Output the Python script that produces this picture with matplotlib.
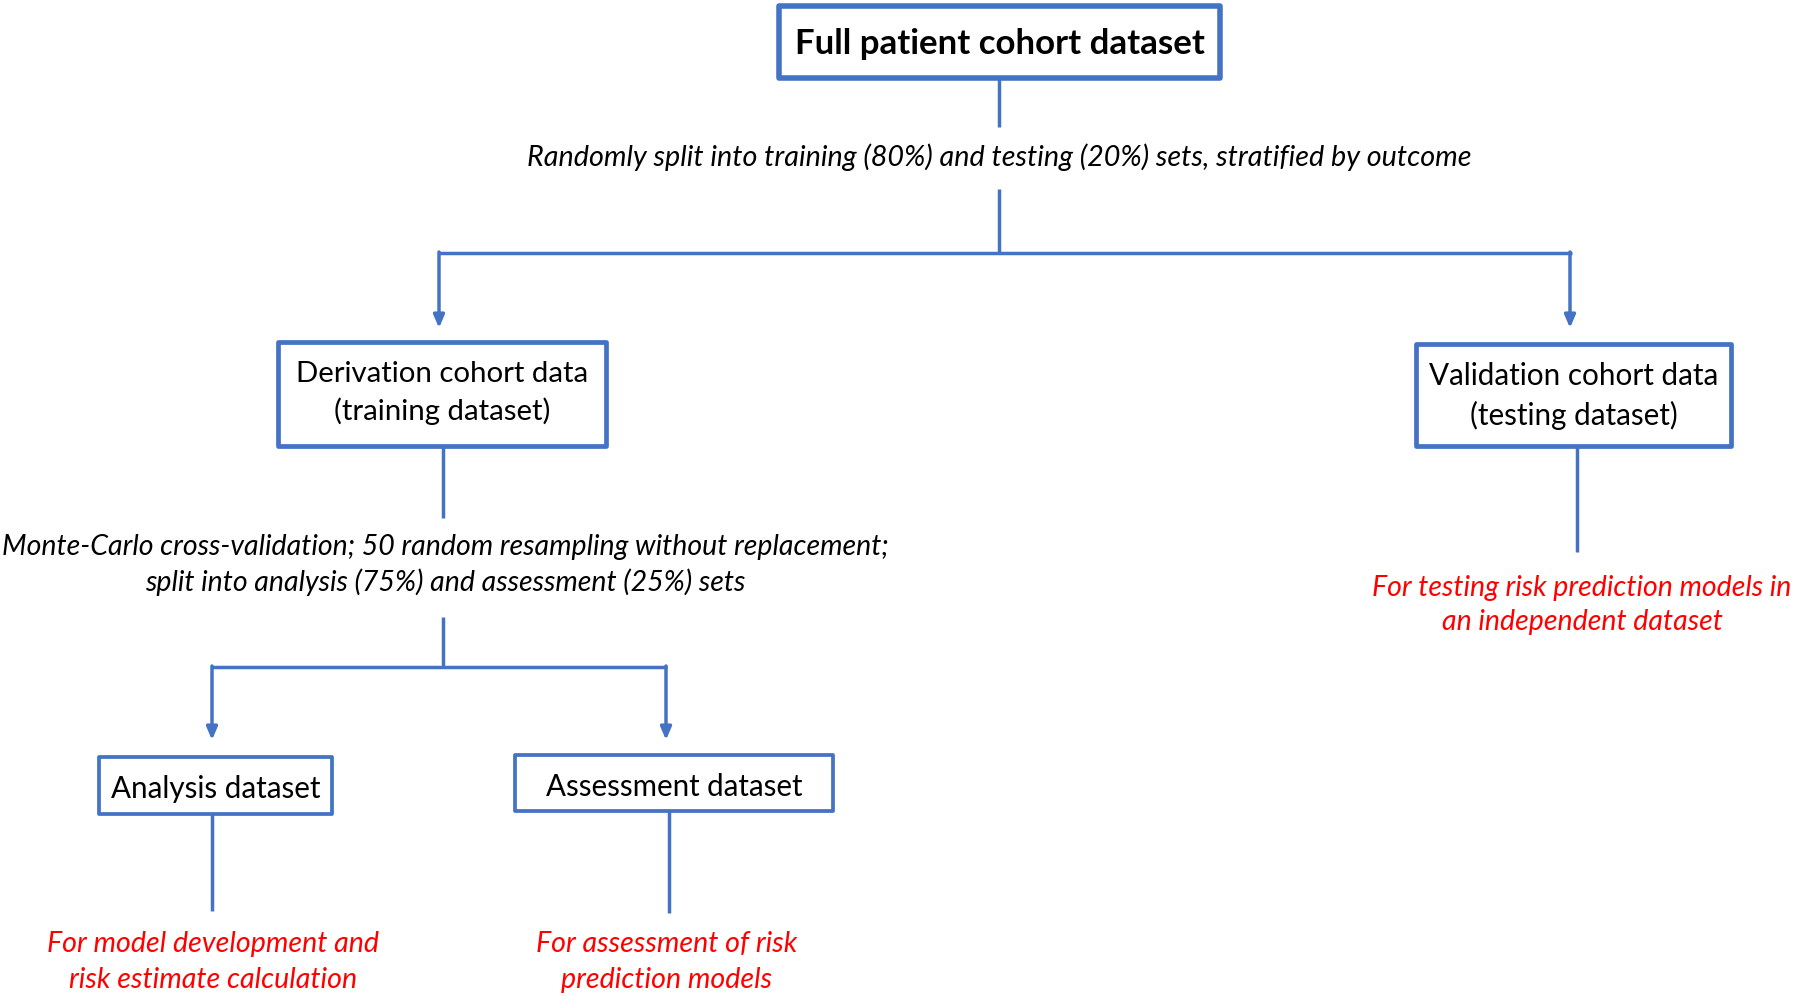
import matplotlib.pyplot as plt
from matplotlib.patches import Rectangle

plt.rcParams['font.family'] = ['Lato', 'DejaVu Sans']

# text content of the flowchart
box_labels = ['Full patient cohort dataset',
              'Derivation cohort data\n(training dataset)',
              'Validation cohort data\n(testing dataset)',
              'Analysis dataset',
              'Assessment dataset']
split_labels = ['Randomly split into training (80%) and testing (20%) sets, stratified by outcome',
                'Monte-Carlo cross-validation; 50 random resampling without replacement;\n'
                'split into analysis (75%) and assessment (25%) sets']
use_labels = ['For testing risk prediction models in\nan independent dataset',
              'For model development and\nrisk estimate calculation',
              'For assessment of risk\nprediction models']

BLUE = '#4472C4'
RED = '#FF0000'

# layout in pixels (x0, y0, x1, y1), y downwards
box_rects = [(779, 6, 1220, 78), (278, 342, 606, 446), (1416, 344, 1731, 446),
             (99, 757, 332, 814), (515, 755, 833, 811)]
box_lw = [4.0, 3.4, 3.4, 2.7, 2.7]
box_text_w = [410, 293, 289, 210, 257]
box_text_y = [44, 393, 396, 789, 787]

fig = plt.figure(figsize=(17.97, 9.96), dpi=100)
ax = fig.add_axes([0, 0, 1, 1])
ax.set_xlim(0, 1797)
ax.set_ylim(996, 0)
ax.axis('off')
renderer = fig.canvas.get_renderer()


def fit_text(x, y, s, width, **kw):
    t = ax.text(x, y, s, ha='center', va='center', fontsize=20, **kw)
    w = t.get_window_extent(renderer).width
    t.set_fontsize(20 * width / w)
    return t


for i, label in enumerate(box_labels):
    x0, y0, x1, y1 = box_rects[i]
    ax.add_patch(Rectangle((x0, y0), x1 - x0, y1 - y0, fill=False,
                           edgecolor=BLUE, lw=box_lw[i], joinstyle='round'))
    fit_text((x0 + x1) / 2, box_text_y[i], label, box_text_w[i],
             color='black', fontweight='bold' if i == 0 else 'normal',
             linespacing=1.42)


def line(xs, ys):
    ax.plot(xs, ys, color=BLUE, lw=2.5, solid_capstyle='butt')


def arrow(x, y0, y1):
    ax.annotate('', xy=(x, y1), xytext=(x, y0),
                arrowprops=dict(arrowstyle='-|>,head_length=0.75,head_width=0.32',
                                color=BLUE, lw=2.5, shrinkA=0, shrinkB=0))


# top split
line([999, 999], [78, 127])
fit_text(999, 157, split_labels[0], 941, style='italic', color='black')
line([999, 999], [189, 253])
line([438, 1572], [253, 253])
arrow(439, 252, 328)
arrow(1570, 252, 328)

# derivation branch
line([443, 443], [446, 518])
fit_text(445, 565, split_labels[1], 887, style='italic', color='black', linespacing=1.35)
line([443, 443], [617, 667])
line([211, 667], [667, 667])
arrow(212, 666, 740)
arrow(666, 666, 740)

# validation branch
line([1577, 1577], [446, 552])
fit_text(1582, 605, use_labels[0], 419, style='italic', color=RED, linespacing=1.38)

# leaf notes
line([212, 212], [814, 911])
fit_text(213, 962, use_labels[1], 331, style='italic', color=RED, linespacing=1.45)
line([669, 669], [811, 913])
fit_text(667, 962, use_labels[2], 261, style='italic', color=RED, linespacing=1.45)

fig.savefig('out.png', dpi=100, facecolor='white')
